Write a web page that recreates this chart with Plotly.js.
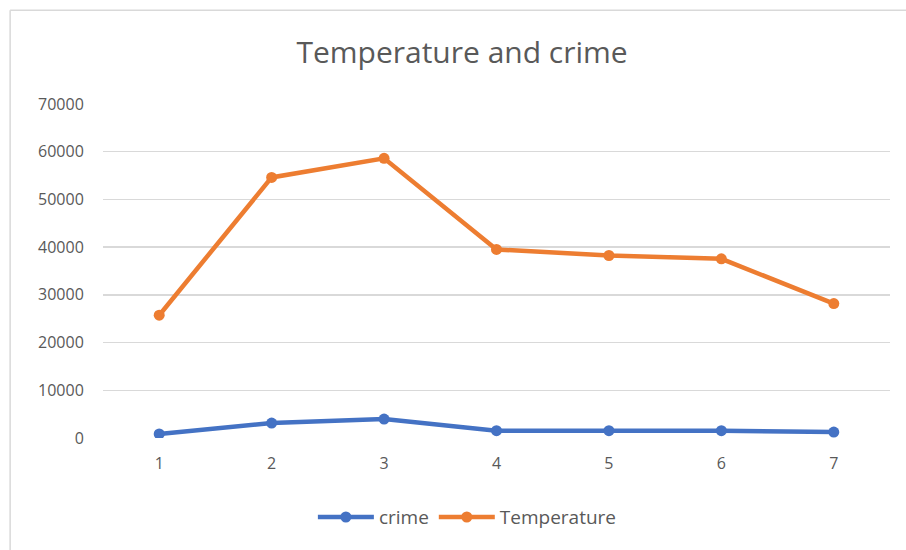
<!DOCTYPE html>
<html>
<head>
<meta charset="utf-8">
<script src="https://cdn.plot.ly/plotly-3.0.1.min.js"></script>
<style>
  html, body { margin: 0; padding: 0; background: #ffffff; }
  #chart { width: 906px; height: 550px; }
</style>
</head>
<body>
<div id="chart"></div>
<script>
const categories = [1, 2, 3, 4, 5, 6, 7];
const crime = [840, 3130, 3970, 1530, 1530, 1530, 1250];
const temperature = [25730, 54610, 58610, 39520, 38250, 37550, 28170];
const yTicks = [0, 10000, 20000, 30000, 40000, 50000, 60000, 70000];

const font = "'Open Sans', 'Liberation Sans', sans-serif";
const gray = '#595959';

const traces = [
  {
    x: categories, y: crime, name: 'crime', type: 'scatter', mode: 'lines+markers',
    line: { color: '#4472C4', width: 4.5 },
    marker: { color: '#4472C4', size: 11 }
  },
  {
    x: categories, y: temperature, name: 'Temperature', type: 'scatter', mode: 'lines+markers',
    line: { color: '#ED7D31', width: 4.5 },
    marker: { color: '#ED7D31', size: 11 }
  }
];

const layout = {
  width: 906, height: 550,
  margin: { l: 103, r: 16, t: 104, b: 112, pad: 0 },
  paper_bgcolor: '#ffffff', plot_bgcolor: '#ffffff',
  font: { family: font, color: gray, size: 16 },
  title: {
    text: 'Temperature and crime',
    font: { family: font, size: 30, color: gray },
    x: 0.51, xref: 'container', xanchor: 'center',
    y: 0.905, yref: 'container', yanchor: 'middle'
  },
  xaxis: {
    range: [0.5, 7.5],
    tickvals: categories,
    ticktext: categories.map(String),
    showgrid: false, zeroline: false, showline: false,
    ticks: 'outside', ticklen: 11, tickcolor: 'rgba(0,0,0,0)',
    tickfont: { family: font, size: 16, color: gray },
    fixedrange: true
  },
  yaxis: {
    range: [0, 70000],
    tickvals: yTicks,
    ticktext: yTicks.map(String),
    showgrid: true, gridcolor: '#D9D9D9', gridwidth: 1.3,
    zeroline: false, showline: false,
    ticks: 'outside', ticklen: 15, tickcolor: 'rgba(0,0,0,0)',
    tickfont: { family: font, size: 16, color: gray },
    fixedrange: true
  },
  showlegend: true,
  legend: {
    orientation: 'h',
    x: 0.463, xanchor: 'center',
    y: -0.237, yanchor: 'middle',
    font: { family: font, size: 19, color: gray },
    itemwidth: 56,
    tracegroupgap: 0
  },
  shapes: [
    { type: 'line', xref: 'paper', yref: 'paper', x0: -0.118, x1: -0.118, y0: 1.281, y1: -0.40,
      line: { color: '#D9D9D9', width: 1.5 } },
    { type: 'line', xref: 'paper', yref: 'paper', x0: -0.118, x1: 1.03, y0: 1.281, y1: 1.281,
      line: { color: '#D9D9D9', width: 1.5 } }
  ]
};

Plotly.newPlot('chart', traces, layout, { displayModeBar: false, staticPlot: true });
</script>
</body>
</html>
